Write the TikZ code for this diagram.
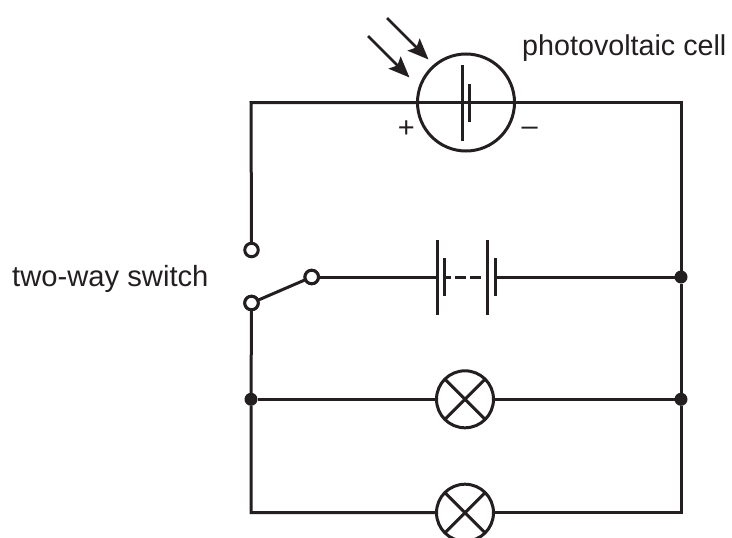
\documentclass[tikz,border=0pt]{standalone}
\usepackage{fontspec}
\setmainfont{Liberation Sans}
\usetikzlibrary{arrows.meta}
\definecolor{ink}{HTML}{231F20}
\tikzset{
  wire/.style={draw=ink,line width=3pt},
  ray/.style={draw=ink,line width=2.8pt,-{Stealth[length=21pt,width=17pt,inset=4pt]}},
  disc/.style={circle,draw=ink,fill=white,line width=3pt,inner sep=0pt,outer sep=0pt,minimum size=#1},
  joint/.style={circle,fill=ink,inner sep=0pt,outer sep=0pt,minimum size=13pt},
  term/.style={circle,draw=ink,fill=white,line width=3pt,inner sep=0pt,outer sep=0pt,minimum size=13.5pt},
  lbl/.style={text=ink,font=\fontsize{28.7}{32}\selectfont,inner sep=0pt,anchor=base west},
  lblb/.style={text=ink,font=\fontsize{29.2}{32}\selectfont,inner sep=0pt,anchor=base west},
  sign/.style={text=ink,font=\fontsize{29}{32}\selectfont,inner sep=0pt,anchor=base}
}
\begin{document}
\begin{tikzpicture}[x=1pt,y=1pt]
\useasboundingbox (0,0) rectangle (732,-538);
% corners
\coordinate (tl) at (251,-102.5);
\coordinate (tr) at (681,-102.5);
\coordinate (bl) at (251,-512.7);
\coordinate (br) at (681,-512.7);
% components
\node[disc=97pt] (cell) at (466,-102.5) {};
\node[disc=57pt] (lampa) at (465,-399.3) {};
\node[disc=57pt] (lampb) at (465,-512.7) {};
\node[term] (swup) at (251.5,-250) {};
\node[term] (swlow) at (251.5,-303) {};
\node[term] (swout) at (311.7,-277) {};
\node[joint] (jr1) at (681,-277) {};
\node[joint] (jr2) at (681,-399.3) {};
\node[joint] (jl) at (251,-399.3) {};
% cell plates
\coordinate (cla) at (462.7,-65); \coordinate (clb) at (462.7,-140.5);
\coordinate (csa) at (469.7,-84); \coordinate (csb) at (469.7,-121.5);
% battery plates
\coordinate (b1la) at (437.3,-240); \coordinate (b1lb) at (437.3,-315);
\coordinate (b1sa) at (444.7,-258); \coordinate (b1sb) at (444.7,-296);
\coordinate (b2la) at (487.7,-240); \coordinate (b2lb) at (487.7,-315);
\coordinate (b2sa) at (495,-258); \coordinate (b2sb) at (495,-296);
\coordinate (b1l) at (437.3,-277); \coordinate (b1s) at (444.7,-277);
\coordinate (b2l) at (487.7,-277); \coordinate (b2s) at (495,-277);
% ray ends
\coordinate (r1a) at (387,-18); \coordinate (r1b) at (428.5,-59.5);
\coordinate (r2a) at (368,-36); \coordinate (r2b) at (409.5,-77.5);
% wires
\draw[wire] (cell.west) -- (tl) -- (swup.north);
\draw[wire] (cell.west) -- (cell.east);
\draw[wire] (cell.east) -- (tr) -- (jr1) -- (jr2) -- (br) -- (lampb.east);
\draw[wire] (lampb.west) -- (bl) -- (jl) -- (swlow.south);
\draw[wire] (jl) -- (lampa.west);
\draw[wire] (lampa.east) -- (jr2);
\draw[wire] (swlow) -- (swout);
\draw[wire] (swout.east) -- (b1l);
\draw[wire] (b2s) -- (jr1);
\draw[wire,dash pattern=on 10.7pt off 4.5pt,dash phase=4.7pt] (b1s) -- (b2l);
% redraw terminals over the switch arm
\node[term] at (swlow) {};
\node[term] at (swout) {};
% plates
\draw[wire] (cla) -- (clb);
\draw[wire] (csa) -- (csb);
\draw[wire] (b1la) -- (b1lb);
\draw[wire] (b1sa) -- (b1sb);
\draw[wire] (b2la) -- (b2lb);
\draw[wire] (b2sa) -- (b2sb);
% lamp crosses
\draw[wire] (lampa.north west) -- (lampa.south east);
\draw[wire] (lampa.north east) -- (lampa.south west);
\draw[wire] (lampb.north west) -- (lampb.south east);
\draw[wire] (lampb.north east) -- (lampb.south west);
% rays
\draw[ray] (r1a) -- (r1b);
\draw[ray] (r2a) -- (r2b);
% labels
\node[sign] (plus) at (406.3,-137.5) {+};
\node[sign] (minus) at (529.7,-135) {–};
\node[lbl] (pv) at (522,-55) {photovoltaic cell};
\node[lblb] (sw) at (12,-286.5) {two-way switch};
\end{tikzpicture}
\end{document}
